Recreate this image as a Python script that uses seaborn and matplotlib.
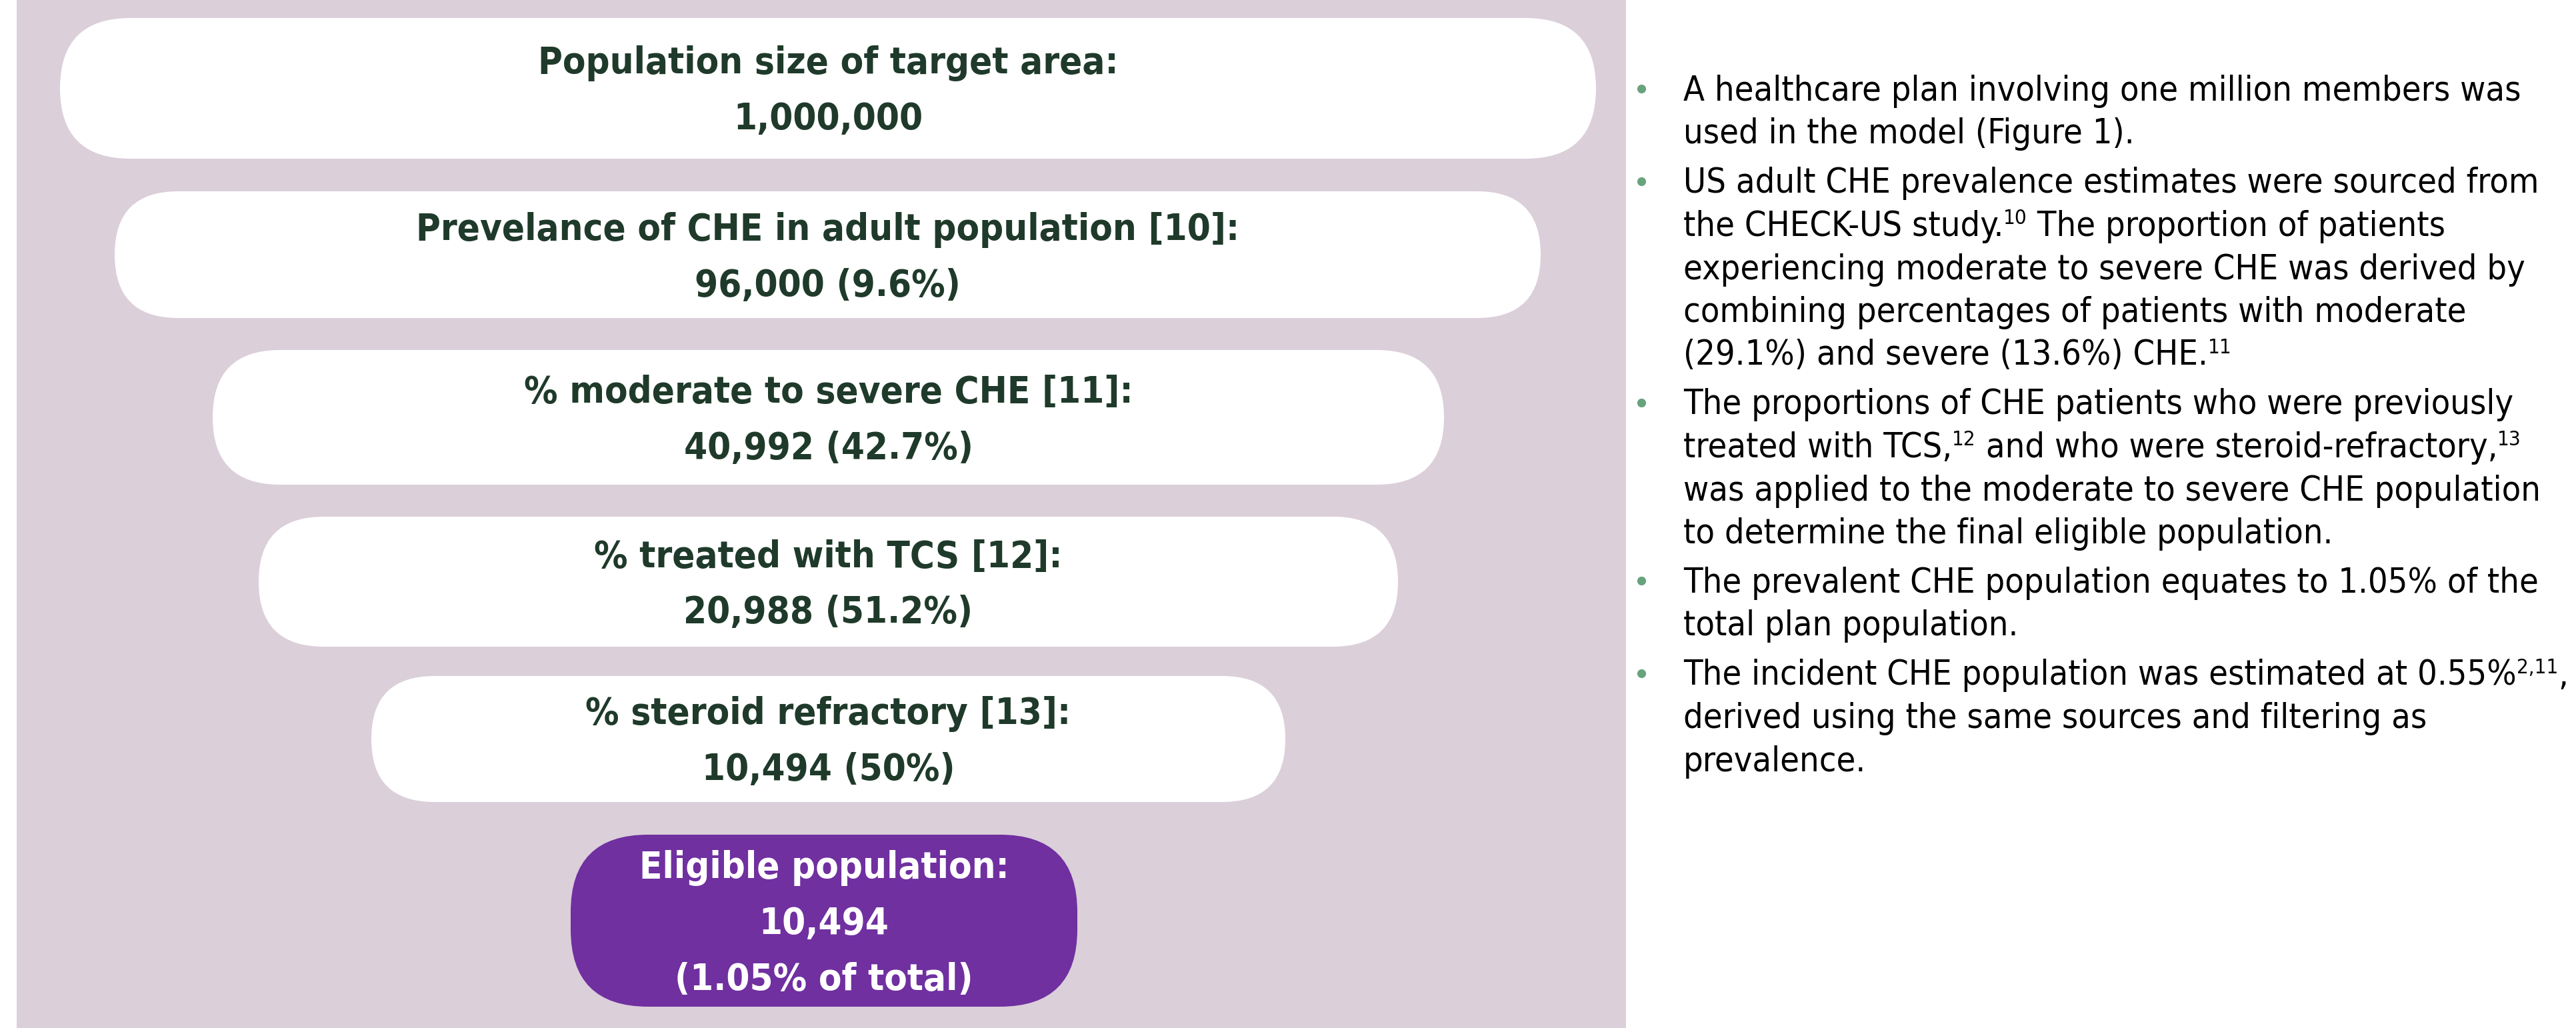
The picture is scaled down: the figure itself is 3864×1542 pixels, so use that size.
import re
import matplotlib.pyplot as plt
import seaborn as sns
from matplotlib import font_manager as fm
from matplotlib.patches import FancyBboxPatch, Rectangle

# funnel stages
stage_labels = [
    "Population size of target area:",
    "Prevelance of CHE in adult population [10]:",
    "% moderate to severe CHE [11]:",
    "% treated with TCS [12]:",
    "% steroid refractory [13]:",
    "Eligible population:",
]
stage_counts = [1000000, 96000, 40992, 20988, 10494, 10494]
stage_pcts = ["", "9.6%", "42.7%", "51.2%", "50%", "1.05% of total"]

# bullet notes, ^{..} marks a superscript
note_paragraphs = [
    ["A healthcare plan involving one million members was",
     "used in the model (Figure 1)."],
    ["US adult CHE prevalence estimates were sourced from",
     "the CHECK-US study.^{10} The proportion of patients",
     "experiencing moderate to severe CHE was derived by",
     "combining percentages of patients with moderate",
     "(29.1%) and severe (13.6%) CHE.^{11}"],
    ["The proportions of CHE patients who were previously",
     "treated with TCS,^{12} and who were steroid-refractory,^{13}",
     "was applied to the moderate to severe CHE population",
     "to determine the final eligible population."],
    ["The prevalent CHE population equates to 1.05% of the",
     "total plan population."],
    ["The incident CHE population was estimated at 0.55%^{2,11},",
     "derived using the same sources and filtering as",
     "prevalence."],
]

sns.set_theme(style="white")
plt.rcParams["font.family"] = ["Liberation Sans", "DejaVu Sans"]


def weight_num(w):
    if isinstance(w, str):
        return fm.weight_dict.get(w, 400)
    return w


def pick_font(bold):
    # look for a narrow / condensed sans face, closest to the original Arial Narrow look
    prefs = ["liberation sans narrow", "arial narrow", "dejavu sans", "open sans",
             "noto sans", "roboto", "lato", "inter"]
    target = 700 if bold else 400
    best = None
    for f in fm.fontManager.ttflist:
        nm = f.name.lower()
        fn = f.fname.lower()
        narrow = ("narrow" in nm or "narrow" in fn or "condensed" in str(f.stretch)
                  or "cond" in fn)
        if not narrow or f.style != "normal" or "mono" in nm or "cjk" in nm:
            continue
        rank = next((i for i, p in enumerate(prefs) if nm.startswith(p)), None)
        if rank is None:
            continue
        if "extra" in str(f.stretch) or "ultra" in str(f.stretch) or "extra" in fn:
            rank += 0.5
        score = (rank, abs(weight_num(f.weight) - target))
        if best is None or score < best[0]:
            best = (score, f.fname)
    if best is None:
        return fm.FontProperties(family=["Liberation Sans", "DejaVu Sans"],
                                 weight="bold" if bold else "normal")
    return fm.FontProperties(fname=best[1])


bold_font = pick_font(True)
plain_font = pick_font(False)

W, H = 3864, 1542
fig = plt.figure(figsize=(W / 100, H / 100), dpi=100)
ax = fig.add_axes([0, 0, 1, 1])
ax.set_xlim(0, W)
ax.set_ylim(H, 0)
ax.axis("off")
renderer = fig.canvas.get_renderer()


def fit_size(text, font, size, width):
    # shrink the size if this face is wider than the one in the original
    t = ax.text(0, 0, text, fontproperties=font, fontsize=size)
    w = t.get_window_extent(renderer).width
    t.remove()
    return min(size * 1.04, size * width / w)


box_size = fit_size(stage_labels[0], bold_font, 40, 869)
note_size = fit_size(note_paragraphs[0][0], plain_font, 39, 1254)

panel_color = "#dbcfda"
purple = "#7030a0"
text_green = "#1f3a2a"
bullet_color = "#68a37e"

ax.add_patch(Rectangle((25, 0), 2414, H, color=panel_color, lw=0))

# box extents in pixels
box_x = [(90, 2394), (172, 2311), (319, 2166), (388, 2097), (557, 1928), (856, 1616)]
box_y = [(27, 238), (287, 477), (525, 727), (775, 970), (1014, 1203), (1252, 1510)]

for i, label in enumerate(stage_labels):
    x0, x1 = box_x[i]
    y0, y1 = box_y[i]
    last = i == len(stage_labels) - 1
    fc = purple if last else "white"
    tc = "white" if last else text_green
    r = min((y1 - y0) / 2, 116)
    ax.add_patch(FancyBboxPatch((x0, y0), x1 - x0, y1 - y0,
                                boxstyle=f"round,pad=0,rounding_size={r}",
                                fc=fc, ec="none"))
    count = f"{stage_counts[i]:,}"
    if last:
        lines = [label, count, f"({stage_pcts[i]})"]
    elif stage_pcts[i]:
        lines = [label, f"{count} ({stage_pcts[i]})"]
    else:
        lines = [label, count]
    cy = (y0 + y1) / 2
    step = 84
    first = cy - (len(lines) - 1) * step / 2 + 20
    for j, ln in enumerate(lines):
        ax.text((x0 + x1) / 2, first + j * step, ln, ha="center", va="baseline",
                fontproperties=bold_font, fontsize=box_size, color=tc)


def draw_segments(x, y, line, size, color):
    parts = re.split(r"\^\{([^}]*)\}", line)
    for k, part in enumerate(parts):
        if not part:
            continue
        sup = k % 2 == 1
        t = ax.text(x, y - (0.34 * size * 1.389 if sup else 0), part,
                    ha="left", va="baseline", fontproperties=plain_font,
                    fontsize=size * 0.6 if sup else size, color=color)
        x = t.get_window_extent(renderer).x1


text_x = 2525
y = 151
for para in note_paragraphs:
    ax.plot([2462], [y - 18], "o", ms=9.5, color=bullet_color, mec="none")
    for ln in para:
        draw_segments(text_x, y, ln, note_size, "black")
        y += 64.5
    y += 9.5

fig.savefig("out.png", dpi=100, facecolor="white")
